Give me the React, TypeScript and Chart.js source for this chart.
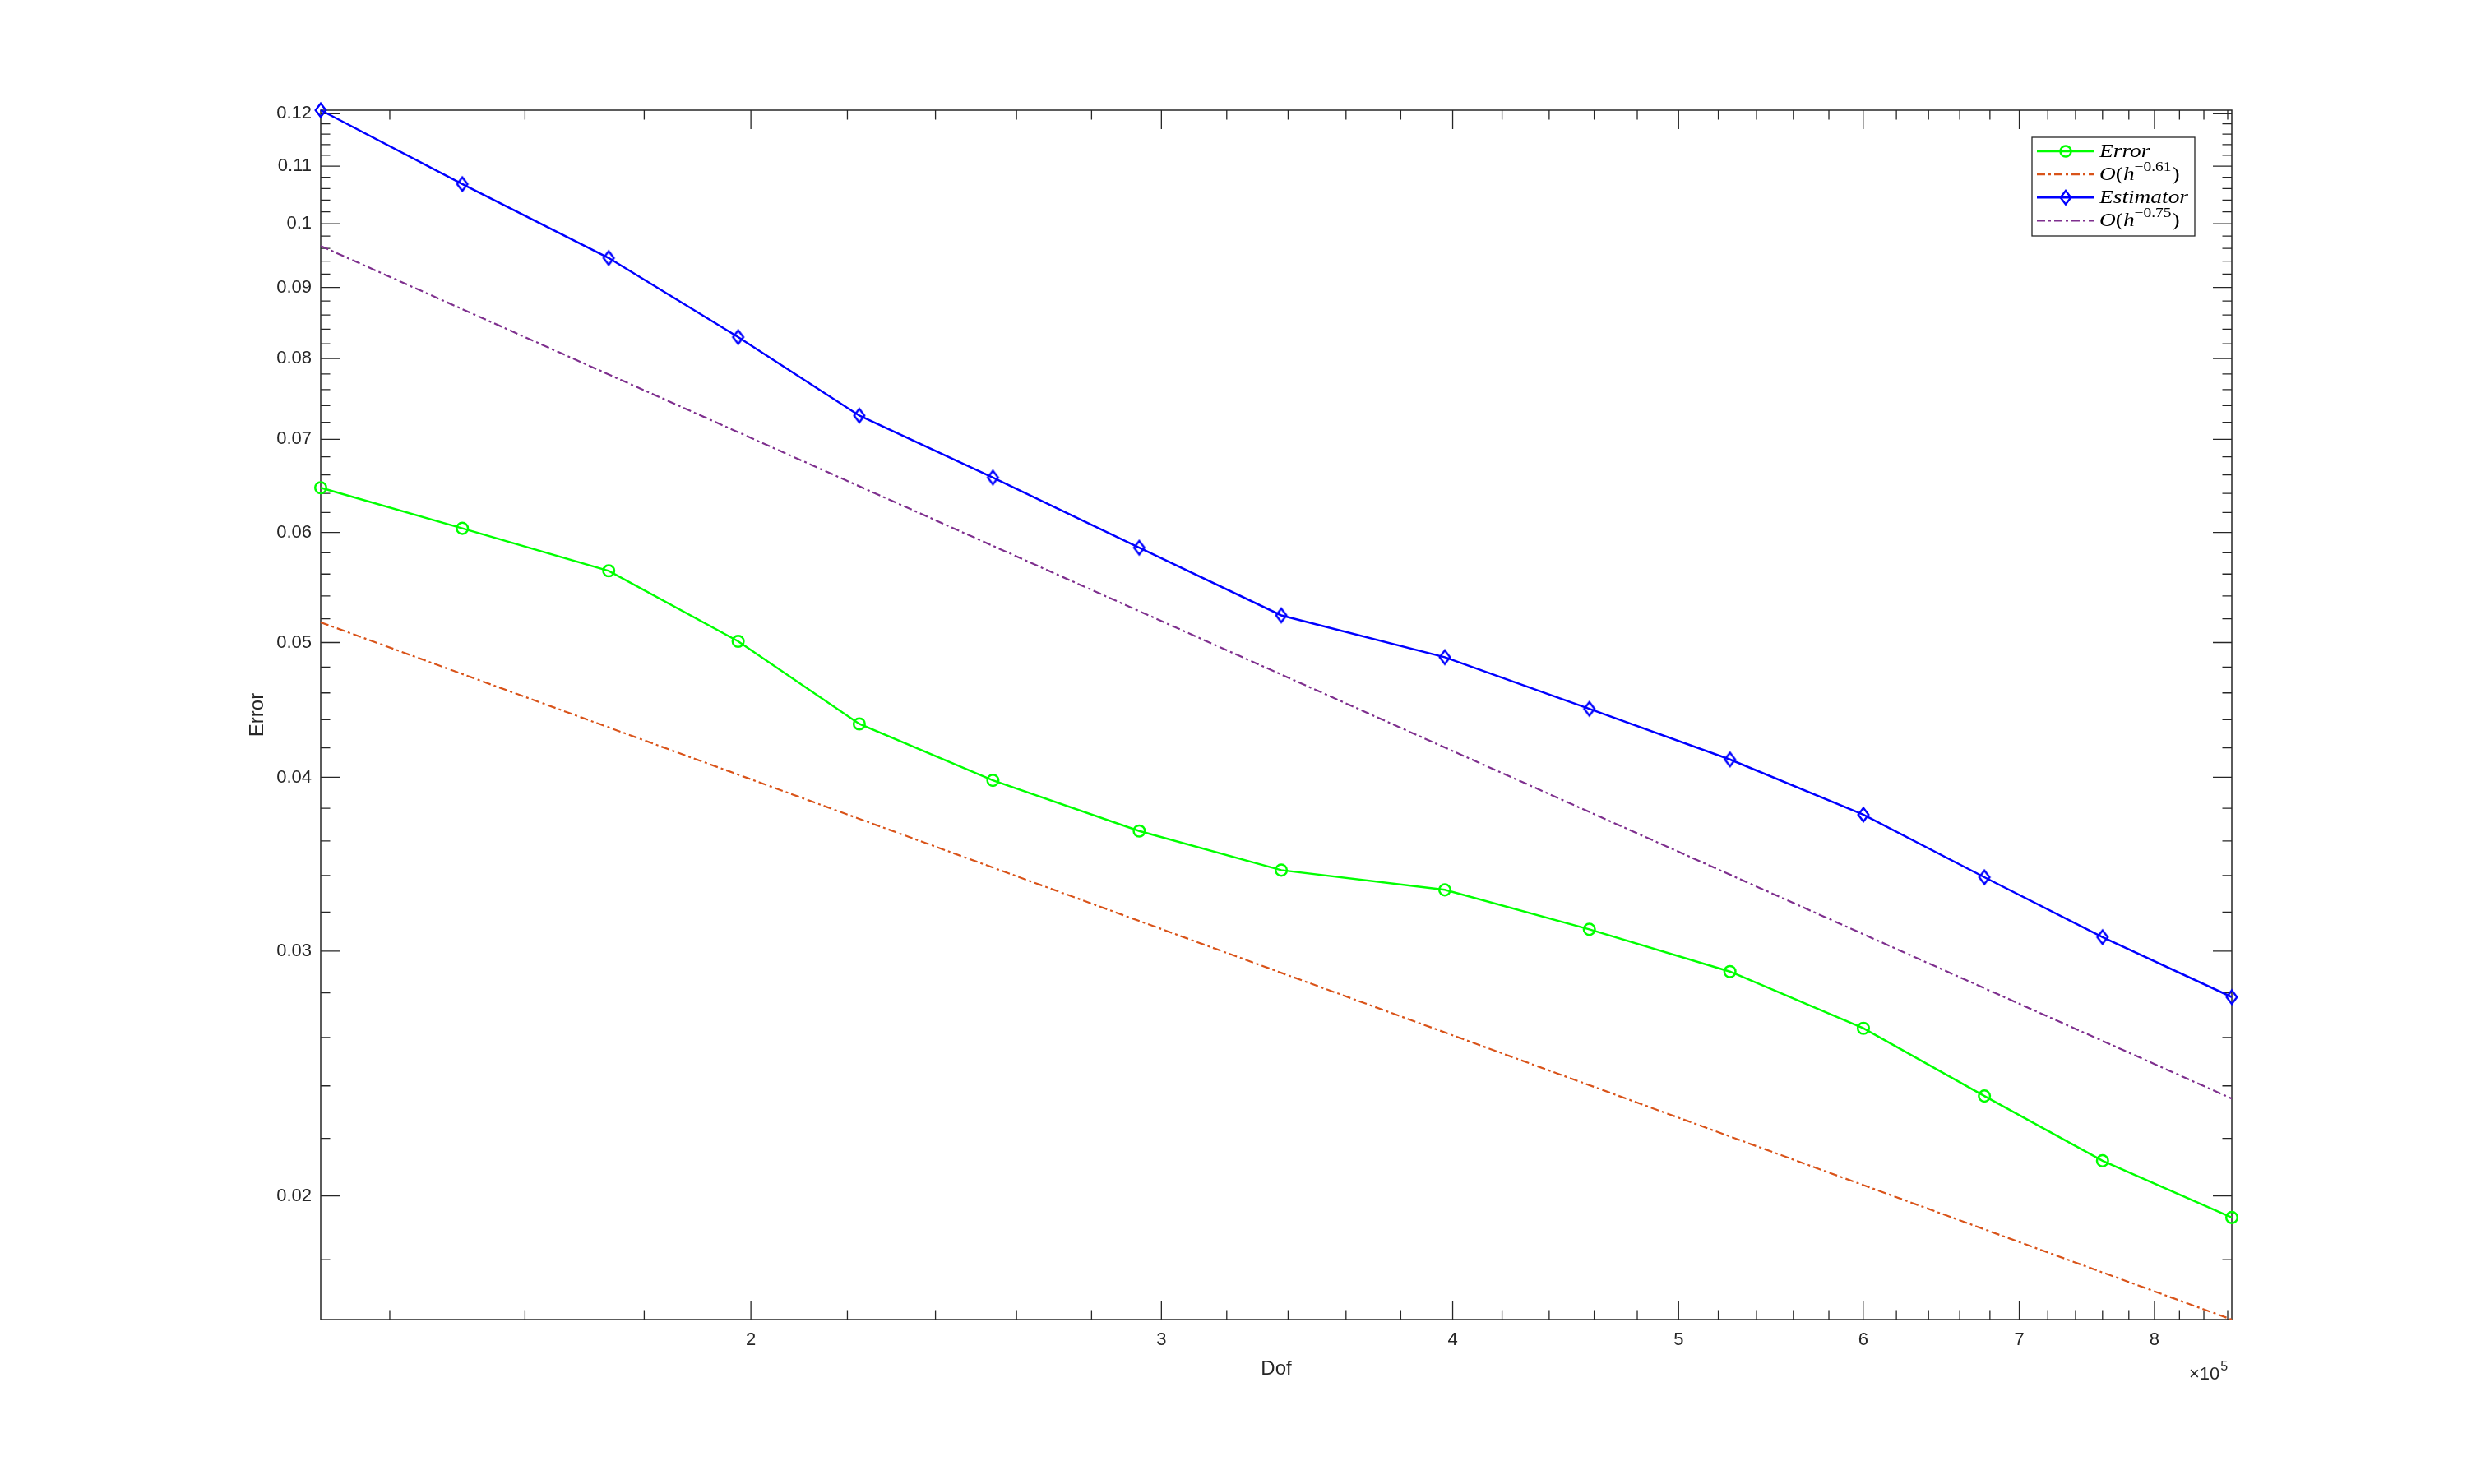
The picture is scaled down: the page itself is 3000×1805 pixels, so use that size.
import React, { useEffect, useRef } from "react";
import { Chart, registerables } from "chart.js";

Chart.register(...registerables);

// ---------------- data ----------------
const dof = [130770, 150400, 173800, 197500, 222600, 254000, 293500, 337700, 396900, 457800, 526000, 600100, 676300, 760000, 863500];
const errorVals = [0.0646, 0.0604, 0.0563, 0.0501, 0.0437, 0.0398, 0.0366, 0.0343, 0.0332, 0.0311, 0.029, 0.0264, 0.0236, 0.0212, 0.0193];
const estimatorVals = [0.1207, 0.1068, 0.0945, 0.0829, 0.0728, 0.0657, 0.0585, 0.0523, 0.0488, 0.0448, 0.0412, 0.0376, 0.0339, 0.0307, 0.0278];
const rateDof = [130770, 863500];
const rate061Vals = [0.0517, 0.0163];
const rate075Vals = [0.0964, 0.0235];

const xMajorTicks = [200000, 300000, 400000, 500000, 600000, 700000, 800000];
const xTickLabels = ["2", "3", "4", "5", "6", "7", "8"];
const yMajorTicks = [0.02, 0.03, 0.04, 0.05, 0.06, 0.07, 0.08, 0.09, 0.1, 0.11, 0.12];
const yTickLabels = ["0.02", "0.03", "0.04", "0.05", "0.06", "0.07", "0.08", "0.09", "0.1", "0.11", "0.12"];

const xMin = 130770;
const xMax = 863500;
const yMin = 0.0163;
const yMax = 0.1207;

const xLabel = "Dof";
const yLabel = "Error";
const xExponentBase = "\u00d710";
const xExponent = "5";

// minor ticks (every 0.2e5 on x, every 0.002 on y)
const xMinorTicks: number[] = [];
for (let k = 14; k <= 86; k += 2) if (k % 10 !== 0) xMinorTicks.push(k * 10000);
const yMinorTicks: number[] = [];
for (let k = 18; k <= 120; k += 2) if (k % 10 !== 0) yMinorTicks.push(k / 1000);

// ---------------- styles ----------------
const W = 3000;
const H = 1805;
const AREA = { left: 390, top: 134, right: 2714, bottom: 1605 };
const AXIS_COLOR = "rgb(38,38,38)";
const SANS = '"Liberation Sans", Arial, Helvetica, sans-serif';
const SERIF = '"Liberation Serif", "Times New Roman", serif';
const GREEN = "rgb(0,255,0)";
const BLUE = "rgb(0,0,255)";
const ORANGE = "rgb(217,83,25)";
const PURPLE = "rgb(126,47,142)";
const DASHDOT = [10, 4, 3, 4];
const MAJOR_LEN = 23;
const MINOR_LEN = 11.5;

type Part = { t: string; it?: boolean; sup?: boolean };
const legendItems: { color: string; dash: number[]; marker: string; parts: Part[] }[] = [
  { color: GREEN, dash: [], marker: "circle", parts: [{ t: "Error", it: true }] },
  { color: ORANGE, dash: DASHDOT, marker: "none", parts: [{ t: "O", it: true }, { t: "(" }, { t: "h", it: true }, { t: "\u22120.61", sup: true }, { t: ")" }] },
  { color: BLUE, dash: [], marker: "diamond", parts: [{ t: "Estimator", it: true }] },
  { color: PURPLE, dash: DASHDOT, marker: "none", parts: [{ t: "O", it: true }, { t: "(" }, { t: "h", it: true }, { t: "\u22120.75", sup: true }, { t: ")" }] },
];

function diamondPath(ctx: CanvasRenderingContext2D, cx: number, cy: number, hw: number, hh: number) {
  ctx.beginPath();
  ctx.moveTo(cx, cy - hh);
  ctx.lineTo(cx + hw, cy);
  ctx.lineTo(cx, cy + hh);
  ctx.lineTo(cx - hw, cy);
  ctx.closePath();
}

function makeDiamond(): HTMLCanvasElement {
  const c = document.createElement("canvas");
  c.width = 20;
  c.height = 24;
  const ctx = c.getContext("2d")!;
  ctx.strokeStyle = BLUE;
  ctx.lineWidth = 2.4;
  diamondPath(ctx, 10, 12, 6.3, 8.3);
  ctx.stroke();
  return c;
}

function setFont(ctx: CanvasRenderingContext2D, p: Part) {
  ctx.font = `${p.it ? "italic " : ""}${p.sup ? 17 : 24}px ${SERIF}`;
}

const matlabPlugin = {
  id: "matlabLook",
  beforeDraw(chart: any) {
    const ctx = chart.ctx as CanvasRenderingContext2D;
    ctx.save();
    ctx.fillStyle = "#ffffff";
    ctx.fillRect(0, 0, chart.width, chart.height);
    ctx.restore();
  },
  beforeDatasetsDraw(chart: any) {
    const ctx = chart.ctx as CanvasRenderingContext2D;
    const { left, right, top, bottom } = chart.chartArea;
    const xs = chart.scales.x;
    const ys = chart.scales.y;
    ctx.save();
    ctx.strokeStyle = AXIS_COLOR;
    ctx.lineWidth = 1.5;
    ctx.strokeRect(left, top, right - left, bottom - top);
    const xTick = (v: number, len: number) => {
      const px = xs.getPixelForValue(v);
      ctx.beginPath();
      ctx.moveTo(px, bottom);
      ctx.lineTo(px, bottom - len);
      ctx.moveTo(px, top);
      ctx.lineTo(px, top + len);
      ctx.stroke();
    };
    const yTick = (v: number, len: number) => {
      const py = ys.getPixelForValue(v);
      ctx.beginPath();
      ctx.moveTo(left, py);
      ctx.lineTo(left + len, py);
      ctx.moveTo(right, py);
      ctx.lineTo(right - len, py);
      ctx.stroke();
    };
    ctx.lineWidth = 1.3;
    xMinorTicks.forEach((v) => xTick(v, MINOR_LEN));
    xMajorTicks.forEach((v) => xTick(v, MAJOR_LEN));
    yMinorTicks.forEach((v) => yTick(v, MINOR_LEN));
    yMajorTicks.forEach((v) => yTick(v, MAJOR_LEN));
    ctx.restore();
  },
  afterDraw(chart: any) {
    const ctx = chart.ctx as CanvasRenderingContext2D;
    const { left, right, top, bottom } = chart.chartArea;
    ctx.save();
    // axis titles
    ctx.fillStyle = AXIS_COLOR;
    ctx.font = `24px ${SANS}`;
    ctx.textAlign = "center";
    ctx.textBaseline = "middle";
    ctx.fillText(xLabel, (left + right) / 2, 1665);
    ctx.save();
    ctx.translate(313, (top + bottom) / 2);
    ctx.rotate(-Math.PI / 2);
    ctx.fillText(yLabel, 0, 0);
    ctx.restore();
    // x10^5
    ctx.textAlign = "left";
    ctx.textBaseline = "alphabetic";
    ctx.font = `22px ${SANS}`;
    ctx.fillText(xExponentBase, 2662, 1678);
    const w10 = ctx.measureText(xExponentBase).width;
    ctx.font = `16px ${SANS}`;
    ctx.fillText(xExponent, 2662 + w10 + 1, 1667);

    // legend
    const bx = 2471, by = 167, bw = 198, bh = 120;
    ctx.fillStyle = "#ffffff";
    ctx.fillRect(bx, by, bw, bh);
    ctx.strokeStyle = AXIS_COLOR;
    ctx.lineWidth = 1.3;
    ctx.strokeRect(bx, by, bw, bh);
    // horizontal scale so that the math-italic text matches LaTeX widths
    setFont(ctx, { t: "Estimator", it: true });
    const sx = 108 / ctx.measureText("Estimator").width;
    legendItems.forEach((item, i) => {
      const cy = 184 + 28.1 * i;
      ctx.save();
      ctx.strokeStyle = item.color;
      ctx.lineWidth = 2.5;
      ctx.setLineDash(item.dash);
      ctx.beginPath();
      ctx.moveTo(2477, cy);
      ctx.lineTo(2547, cy);
      ctx.stroke();
      ctx.setLineDash([]);
      if (item.marker === "circle") {
        ctx.beginPath();
        ctx.arc(2512, cy, 6.5, 0, Math.PI * 2);
        ctx.stroke();
      } else if (item.marker === "diamond") {
        ctx.lineWidth = 2.4;
        diamondPath(ctx, 2512, cy, 6.3, 8.3);
        ctx.stroke();
      }
      ctx.restore();
      ctx.save();
      ctx.translate(2553, cy + 7);
      ctx.scale(sx, 1);
      ctx.fillStyle = "#000000";
      ctx.textAlign = "left";
      ctx.textBaseline = "alphabetic";
      let x = 0;
      item.parts.forEach((p) => {
        setFont(ctx, p);
        ctx.fillText(p.t, x, p.sup ? -11 : 0);
        x += ctx.measureText(p.t).width + (p.sup ? 1 : 0);
      });
      ctx.restore();
    });
    ctx.restore();
  },
};

export default function App() {
  const ref = useRef<HTMLCanvasElement | null>(null);
  useEffect(() => {
    document.body.style.margin = "0";
    document.body.style.overflow = "hidden";
    const canvas = ref.current;
    if (!canvas) return;
    const diamond = makeDiamond();
    const pts = (xs: number[], ys: number[]) => xs.map((x, i) => ({ x, y: ys[i] }));
    const chart = new Chart(canvas, {
      type: "line",
      data: {
        datasets: [
          {
            label: "Error",
            data: pts(dof, errorVals),
            borderColor: GREEN,
            borderWidth: 2.5,
            pointStyle: "circle",
            pointRadius: 6.8,
            pointBorderWidth: 2.5,
            pointBorderColor: GREEN,
            pointBackgroundColor: "rgba(0,0,0,0)",
            tension: 0,
            clip: false,
          },
          {
            label: "O(h^-0.61)",
            data: pts(rateDof, rate061Vals),
            borderColor: ORANGE,
            borderWidth: 2.2,
            borderDash: DASHDOT,
            pointRadius: 0,
            tension: 0,
            clip: false,
          },
          {
            label: "Estimator",
            data: pts(dof, estimatorVals),
            borderColor: BLUE,
            borderWidth: 2.5,
            pointStyle: diamond,
            pointRadius: 9,
            tension: 0,
            clip: false,
          },
          {
            label: "O(h^-0.75)",
            data: pts(rateDof, rate075Vals),
            borderColor: PURPLE,
            borderWidth: 2.2,
            borderDash: DASHDOT,
            pointRadius: 0,
            tension: 0,
            clip: false,
          },
        ] as any,
      },
      options: {
        responsive: false,
        animation: false,
        devicePixelRatio: 1,
        events: [],
        layout: { padding: { left: 0, top: AREA.top, right: W - AREA.right, bottom: 0 } },
        plugins: {
          legend: { display: false },
          tooltip: { enabled: false },
          title: { display: false },
        },
        scales: {
          x: {
            type: "logarithmic",
            position: "bottom",
            min: xMin,
            max: xMax,
            bounds: "data",
            grid: { display: false, drawTicks: false },
            border: { display: false },
            afterBuildTicks: (s: any) => {
              s.ticks = xMajorTicks.map((v) => ({ value: v }));
            },
            afterFit: (s: any) => {
              s.height = H - AREA.bottom;
            },
            ticks: {
              autoSkip: false,
              maxRotation: 0,
              minRotation: 0,
              padding: 12,
              color: AXIS_COLOR,
              font: { family: SANS, size: 22 },
              callback: (v: any) => {
                const i = xMajorTicks.findIndex((t) => Math.abs(t - Number(v)) < 1);
                return i >= 0 ? xTickLabels[i] : "";
              },
            },
          },
          y: {
            type: "logarithmic",
            position: "left",
            min: yMin,
            max: yMax,
            bounds: "data",
            grid: { display: false, drawTicks: false },
            border: { display: false },
            afterBuildTicks: (s: any) => {
              s.ticks = yMajorTicks.map((v) => ({ value: v }));
            },
            afterFit: (s: any) => {
              s.width = AREA.left;
            },
            ticks: {
              autoSkip: false,
              padding: 11,
              color: AXIS_COLOR,
              font: { family: SANS, size: 22 },
              callback: (v: any) => {
                const i = yMajorTicks.findIndex((t) => Math.abs(t - Number(v)) < 1e-6);
                return i >= 0 ? yTickLabels[i] : "";
              },
            },
          },
        },
      } as any,
      plugins: [matlabPlugin as any],
    });
    return () => chart.destroy();
  }, []);
  return (
    <div style={{ position: "absolute", left: 0, top: 0, width: W, height: H, background: "#fff" }}>
      <canvas ref={ref} width={W} height={H} style={{ display: "block", width: W, height: H }} />
    </div>
  );
}
